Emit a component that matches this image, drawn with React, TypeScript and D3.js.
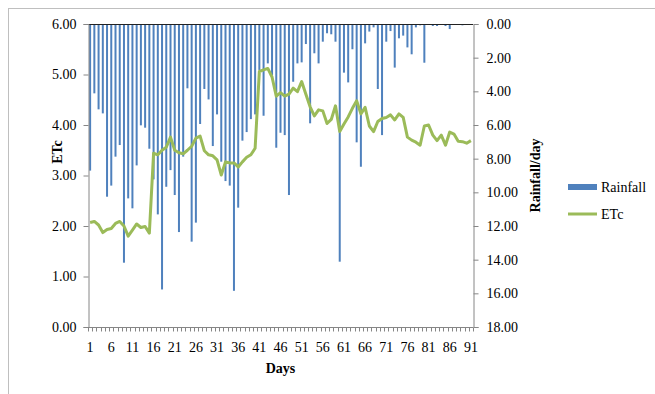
import * as d3 from "d3";
import { useEffect, useRef } from "react";

// days 1..91
const days: number[] = Array.from({ length: 91 }, (_, i) => i + 1);

// daily rainfall (right axis, inverted)
const rainfall: number[] = [
  8.71, 4.12, 5.07, 5.31, 10.26, 9.6, 7.88, 7.19, 14.18, 10.36,
  10.95, 8.4, 6.02, 6.16, 7.41, 9.23, 11.31, 15.77, 9.67, 8.68,
  10.16, 12.36, 7.88, 3.82, 12.93, 11.8, 5.94, 3.86, 4.48, 7.25,
  5.37, 8.18, 9.33, 9.6, 15.85, 10.91, 6.93, 6.42, 5.65, 5.37,
  2.73, 5.45, 2.34, 3.03, 7.35, 6.46, 6.6, 10.16, 3.43, 2.34,
  2.28, 1.19, 5.9, 1.74, 2.34, 1.05, 0.55, 0.61, 1.05, 14.12,
  2.89, 3.47, 1.5, 7.03, 8.48, 1.15, 0.45, 0.2, 3.86, 6.6,
  1.05, 0.42, 2.59, 0.85, 0.69, 1.39, 1.8, 0.2, 0.08, 2.3,
  0, 0.12, 0.12, 0, 0.12, 0.3, 0, 0, 0.08, 0, 0,
];

// crop evapotranspiration (left axis)
const etc: number[] = [
  2.07, 2.09, 2.02, 1.87, 1.93, 1.95, 2.05, 2.09, 2.0, 1.8,
  1.92, 2.04, 1.97, 1.99, 1.86, 3.44, 3.41, 3.5, 3.56, 3.76,
  3.5, 3.45, 3.43, 3.5, 3.58, 3.74, 3.78, 3.49, 3.41, 3.39,
  3.31, 3.01, 3.27, 3.25, 3.25, 3.17, 3.27, 3.36, 3.41, 3.54,
  5.06, 5.09, 5.12, 4.95, 4.57, 4.64, 4.57, 4.61, 4.73, 4.66,
  4.86, 4.61, 4.36, 4.18, 4.3, 4.28, 4.03, 4.11, 4.38, 3.87,
  4.02, 4.16, 4.33, 4.48, 4.22, 4.35, 3.98, 3.87, 4.07, 4.13,
  4.15, 4.2, 4.1, 4.22, 4.15, 3.76, 3.7, 3.66, 3.6, 3.98,
  4.0, 3.8, 3.69, 3.8, 3.6, 3.86, 3.82, 3.68, 3.67, 3.64, 3.69,
];

const leftTicks: number[] = [0, 1, 2, 3, 4, 5, 6];
const rightTicks: number[] = [0, 2, 4, 6, 8, 10, 12, 14, 16, 18];
const dayLabels: number[] = [1, 6, 11, 16, 21, 26, 31, 36, 41, 46, 51, 56, 61, 66, 71, 76, 81, 86, 91];

const W = 655;
const H = 394;
const plot = { left: 88, right: 473, top: 24, bottom: 327 };
const font = "'Liberation Serif', 'Times New Roman', serif";

const App = () => {
  const ref = useRef<SVGSVGElement>(null);

  useEffect(() => {
    const svg = d3.select(ref.current);
    svg.selectAll("*").remove();

    const x = d3.scaleBand<number>().domain(days).range([plot.left, plot.right]).padding(0);
    const yL = d3.scaleLinear().domain([0, 6]).range([plot.bottom, plot.top]);
    const yR = d3.scaleLinear().domain([0, 18]).range([plot.top, plot.bottom]);
    const cx = (d: number) => (x(d) as number) + x.bandwidth() / 2;

    // outer chart border
    svg.append("rect")
      .attr("x", 8.5).attr("y", 8.5)
      .attr("width", W + 10).attr("height", H + 10)
      .attr("fill", "white").attr("stroke", "#bfbfbf");

    // rainfall bars hanging from the top
    svg.append("g").selectAll("rect")
      .data(days)
      .enter()
      .append("rect")
      .attr("x", d => cx(d) - 1)
      .attr("y", plot.top)
      .attr("width", 2)
      .attr("height", (d, i) => yR(rainfall[i]) - plot.top)
      .attr("fill", "#4f81bd");

    // top category line
    svg.append("line")
      .attr("x1", plot.left).attr("x2", plot.right)
      .attr("y1", plot.top + 0.5).attr("y2", plot.top + 0.5)
      .attr("stroke", "#222").attr("stroke-width", 1);

    // ETc line
    const line = d3.line<number>()
      .x(d => cx(d))
      .y((d, i) => yL(etc[i]));
    svg.append("path")
      .datum(days)
      .attr("d", line)
      .attr("fill", "none")
      .attr("stroke", "#9bbb59")
      .attr("stroke-width", 3)
      .attr("stroke-linejoin", "round");

    // left axis
    const gl = svg.append("g")
      .attr("transform", `translate(${plot.left + 0.5},0)`)
      .call(d3.axisLeft(yL).tickValues(leftTicks).tickFormat(d3.format(".2f")).tickSizeOuter(0).tickSize(5));
    // right axis
    const gr = svg.append("g")
      .attr("transform", `translate(${plot.right + 0.5},0)`)
      .call(d3.axisRight(yR).tickValues(rightTicks).tickFormat(d3.format(".2f")).tickSizeOuter(0).tickSize(5));
    [gl, gr].forEach(g => {
      g.select(".domain").attr("stroke", "#868686");
      g.selectAll(".tick line").attr("stroke", "#868686");
      g.selectAll(".tick text")
        .attr("fill", "#000")
        .style("font-family", font)
        .style("font-size", "14px");
    });
    gl.selectAll(".tick text").attr("x", -12);
    gr.selectAll(".tick text").attr("x", 13);

    // bottom axis
    const gb = svg.append("g").attr("transform", `translate(0,${plot.bottom + 0.5})`);
    gb.append("line")
      .attr("x1", plot.left).attr("x2", plot.right)
      .attr("stroke", "#868686");
    const bounds = days.map(d => x(d) as number).concat([plot.right]);
    gb.selectAll(".tk")
      .data(bounds)
      .enter()
      .append("line")
      .attr("x1", d => Math.round(d) + 0.5).attr("x2", d => Math.round(d) + 0.5)
      .attr("y1", 0).attr("y2", 4)
      .attr("stroke", "#868686");
    gb.selectAll(".lb")
      .data(dayLabels)
      .enter()
      .append("text")
      .attr("x", d => cx(d))
      .attr("y", 24)
      .attr("text-anchor", "middle")
      .style("font-family", font)
      .style("font-size", "14px")
      .text(d => String(d));

    // axis titles
    svg.append("text")
      .attr("transform", `translate(${62},${152}) rotate(-90)`)
      .attr("text-anchor", "middle")
      .style("font-family", font).style("font-size", "14px").style("font-weight", "bold")
      .text("ETc");
    svg.append("text")
      .attr("transform", `translate(${540},${plot.top + (plot.bottom - plot.top) / 2}) rotate(-90)`)
      .attr("text-anchor", "middle")
      .style("font-family", font).style("font-size", "14px").style("font-weight", "bold")
      .text("Rainfall/day");
    svg.append("text")
      .attr("x", (plot.left + plot.right) / 2)
      .attr("y", 373)
      .attr("text-anchor", "middle")
      .style("font-family", font).style("font-size", "14px").style("font-weight", "bold")
      .text("Days");

    // legend
    const lg = svg.append("g").attr("transform", "translate(568,187)");
    lg.append("rect").attr("x", 0).attr("y", -3).attr("width", 29).attr("height", 6).attr("fill", "#4f81bd");
    lg.append("text").attr("x", 33).attr("y", 5)
      .style("font-family", font).style("font-size", "14px").text("Rainfall");
    lg.append("line").attr("x1", 0).attr("x2", 29).attr("y1", 27).attr("y2", 27)
      .attr("stroke", "#9bbb59").attr("stroke-width", 3);
    lg.append("text").attr("x", 33).attr("y", 32)
      .style("font-family", font).style("font-size", "14px").text("ETc");
  }, []);

  return (
    <svg
      ref={ref}
      width={W}
      height={H}
      style={{ position: "absolute", left: 0, top: 0, background: "white" }}
    ></svg>
  );
};

export default App;
